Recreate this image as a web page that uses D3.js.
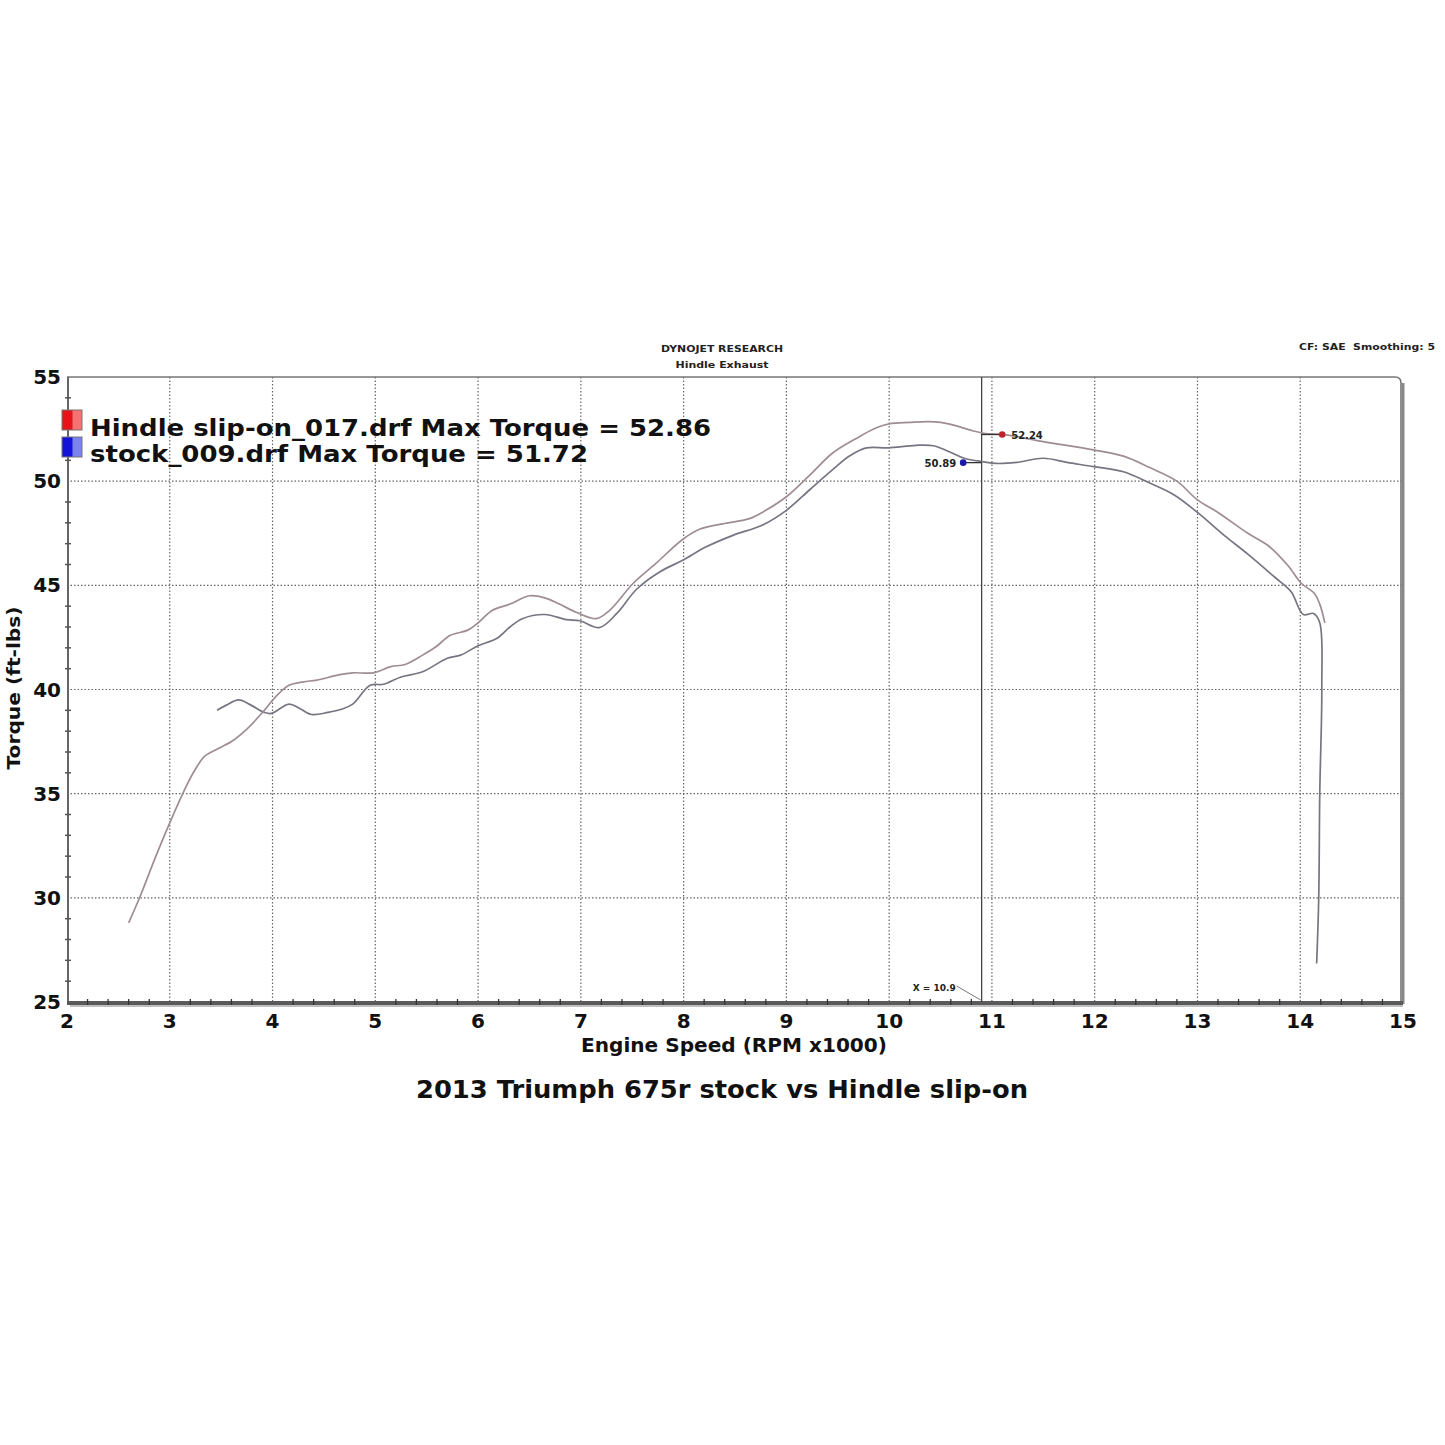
<!DOCTYPE html>
<html>
<head>
<meta charset="utf-8">
<script src="https://cdn.jsdelivr.net/npm/d3@7"></script>
<style>
html,body{margin:0;padding:0;background:#fff;}
svg{display:block;font-family:"DejaVu Sans",Verdana,sans-serif;font-weight:bold;}
</style>
</head>
<body>
<svg id="chart" width="1445" height="1445"></svg>
<script>
// ---------- DATA ----------
const xTicks = [2,3,4,5,6,7,8,9,10,11,12,13,14,15];
const yTicks = [25,30,35,40,45,50,55];

const hindleRpm = [2.60,2.71,2.865,3.0,3.155,3.24,3.34,3.445,3.60,3.75,3.92,4.03,4.16,4.30,4.43,4.64,4.78,4.98,5.15,5.29,5.46,5.59,5.73,5.90,6.0,6.14,6.31,6.50,6.65,6.79,6.96,7.15,7.28,7.51,7.73,7.99,8.16,8.38,8.64,8.80,9.0,9.23,9.45,9.68,9.87,10.0,10.2,10.38,10.5,10.62,10.79,10.92,11.1,11.17,11.5,11.99,12.28,12.54,12.80,13.0,13.20,13.49,13.69,13.88,14.01,14.14,14.19,14.24];
const hindleTq  = [28.8,30.05,32.0,33.6,35.3,36.1,36.8,37.1,37.5,38.1,39.0,39.65,40.2,40.37,40.45,40.7,40.8,40.8,41.1,41.2,41.65,42.05,42.6,42.85,43.2,43.8,44.1,44.5,44.4,44.1,43.7,43.4,43.8,45.1,46.05,47.2,47.7,47.95,48.2,48.6,49.25,50.3,51.35,52.05,52.55,52.75,52.82,52.86,52.82,52.7,52.45,52.3,52.24,52.2,51.9,51.5,51.2,50.64,50.0,49.1,48.5,47.5,46.9,45.95,45.1,44.6,44.1,43.2];

const stockRpm = [3.46,3.55,3.67,3.79,3.92,3.99,4.16,4.26,4.38,4.54,4.67,4.78,4.95,5.08,5.25,5.46,5.70,5.83,6.0,6.18,6.31,6.43,6.65,6.86,6.99,7.18,7.35,7.54,7.77,7.99,8.22,8.48,8.77,9.0,9.23,9.45,9.61,9.78,9.99,10.26,10.43,10.59,10.73,10.92,11.04,11.24,11.5,11.73,11.99,12.28,12.54,12.77,13.0,13.26,13.49,13.75,13.91,14.03,14.13,14.19,14.21,14.19,14.18,14.16];
const stockTq  = [39.0,39.25,39.5,39.25,38.9,38.85,39.3,39.1,38.8,38.9,39.05,39.3,40.2,40.25,40.6,40.85,41.5,41.65,42.1,42.45,43.0,43.4,43.6,43.35,43.3,42.97,43.65,44.8,45.65,46.2,46.85,47.4,47.9,48.6,49.6,50.55,51.2,51.6,51.6,51.72,51.7,51.4,51.1,50.93,50.85,50.9,51.1,50.9,50.7,50.45,49.9,49.35,48.5,47.4,46.5,45.4,44.7,43.6,43.65,43.2,40.1,35.0,30.0,26.85];

const legendLabels = ["Hindle slip-on_017.drf Max Torque = 52.86","stock_009.drf Max Torque = 51.72"];
const cursorX = 10.9;
const markerRpm = [11.1, 10.72];
const markerTq  = [52.24, 50.89];
const markerLabels = ["52.24","50.89"];

// ---------- LAYOUT ----------
const svg = d3.select("#chart");
const x = d3.scaleLinear().domain([2,15]).range([67,1403]);
const y = d3.scaleLinear().domain([25,55]).range([1002,377]);

const defs = svg.append("defs");
function grad(id, c1, c2){
  const g = defs.append("linearGradient").attr("id",id).attr("x1","0").attr("x2","1").attr("y1","0").attr("y2","0");
  g.append("stop").attr("offset","0").attr("stop-color",c1);
  g.append("stop").attr("offset","0.5").attr("stop-color",c1);
  g.append("stop").attr("offset","0.55").attr("stop-color",c2);
  g.append("stop").attr("offset","1").attr("stop-color",c2);
}
grad("gRed","#e8131a","#f47272");
grad("gBlue","#1414d8","#7a82ee");

// grid
const grid = svg.append("g").attr("stroke","#666").attr("stroke-width",1.2).attr("stroke-dasharray","1.5,2");
grid.selectAll("line.v").data(xTicks.slice(1,-1)).join("line")
  .attr("x1",d=>x(d)).attr("x2",d=>x(d)).attr("y1",y(55)).attr("y2",y(25));
grid.selectAll("line.h").data(yTicks.slice(1,-1)).join("line")
  .attr("x1",x(2)).attr("x2",x(15)).attr("y1",d=>y(d)).attr("y2",d=>y(d));

// frame: top thin, right thick with rounded corner
const r = 6;
svg.append("path")
  .attr("d",`M${x(2)},${y(55)} H${x(15)-r-2} Q${x(15)-2},${y(55)} ${x(15)-2},${y(55)+r} V${y(25)}`)
  .attr("fill","none").attr("stroke","#777").attr("stroke-width",1.6);
svg.append("line").attr("x1",x(15)).attr("x2",x(15)).attr("y1",y(55)+r).attr("y2",y(25)+2)
  .attr("stroke","#888").attr("stroke-width",3);

// left axis
svg.append("line").attr("x1",x(2)+1).attr("x2",x(2)+1).attr("y1",y(55)).attr("y2",y(25))
  .attr("stroke","#666").attr("stroke-width",2);
const yMinor = d3.range(26,55,1).filter(v=>v%5!==0);
svg.append("g").selectAll("line").data(yMinor).join("line")
  .attr("x1",x(2)-2).attr("x2",x(2)+4).attr("y1",d=>y(d)).attr("y2",d=>y(d))
  .attr("stroke","#555").attr("stroke-width",1.5);

// bottom axis (thick)
svg.append("line").attr("x1",x(2)).attr("x2",x(15)).attr("y1",y(25)+1).attr("y2",y(25)+1)
  .attr("stroke","#5a5a5a").attr("stroke-width",4);
svg.append("line").attr("x1",x(2)+3).attr("x2",x(15)).attr("y1",y(25)+4).attr("y2",y(25)+4)
  .attr("stroke","#aaa").attr("stroke-width",1.5);
const xMinor = d3.range(2.2,15,0.2).filter(v=>Math.abs(v-Math.round(v))>0.01);
svg.append("g").selectAll("line").data(xMinor).join("line")
  .attr("x1",d=>x(d)).attr("x2",d=>x(d)).attr("y1",y(25)-3).attr("y2",y(25)+3)
  .attr("stroke","#333").attr("stroke-width",1.3);

// tick labels
svg.append("g").selectAll("text").data(xTicks).join("text")
  .attr("x",d=>x(d)).attr("y",1028).attr("text-anchor","middle")
  .attr("font-size",20).attr("fill","#111").text(d=>d);
svg.append("g").selectAll("text").data(yTicks).join("text")
  .attr("x",61).attr("y",d=>y(d)+7).attr("text-anchor","end")
  .attr("font-size",20).attr("fill","#111").text(d=>d);

// axis titles
svg.append("text").attr("x",734).attr("y",1052).attr("text-anchor","middle")
  .attr("font-size",19).attr("fill","#111")
  .attr("textLength",306).attr("lengthAdjust","spacingAndGlyphs")
  .text("Engine Speed (RPM x1000)");
svg.append("text").attr("transform","translate(20,688) rotate(-90)").attr("text-anchor","middle")
  .attr("font-size",18).attr("fill","#111")
  .attr("textLength",163).attr("lengthAdjust","spacingAndGlyphs")
  .text("Torque (ft-lbs)");

// header texts
svg.append("text").attr("x",722).attr("y",352).attr("text-anchor","middle")
  .attr("font-size",9.5).attr("fill","#222")
  .attr("textLength",122).attr("lengthAdjust","spacingAndGlyphs").text("DYNOJET RESEARCH");
svg.append("text").attr("x",722).attr("y",368).attr("text-anchor","middle")
  .attr("font-size",9.5).attr("fill","#222")
  .attr("textLength",93).attr("lengthAdjust","spacingAndGlyphs").text("Hindle Exhaust");
svg.append("text").attr("x",1435).attr("y",350).attr("text-anchor","end")
  .attr("font-size",9.5).attr("fill","#222")
  .attr("textLength",136).attr("lengthAdjust","spacingAndGlyphs").attr("xml:space","preserve")
  .text("CF: SAE  Smoothing: 5");

// chart title
svg.append("text").attr("x",722).attr("y",1098).attr("text-anchor","middle")
  .attr("font-size",25).attr("fill","#111")
  .attr("textLength",612).attr("lengthAdjust","spacingAndGlyphs")
  .text("2013 Triumph 675r stock vs Hindle slip-on");

// cursor line
svg.append("line").attr("x1",x(cursorX)).attr("x2",x(cursorX)).attr("y1",y(55)).attr("y2",y(25))
  .attr("stroke","#444").attr("stroke-width",1.3);
svg.append("text").attr("x",x(cursorX)-26).attr("y",y(25)-11).attr("text-anchor","end")
  .attr("font-size",9).attr("fill","#222").text("X = " + cursorX);
svg.append("line").attr("x1",x(cursorX)-25).attr("y1",y(25)-16).attr("x2",x(cursorX)-1).attr("y2",y(25)-2)
  .attr("stroke","#777").attr("stroke-width",1);

// curves
const line = d3.line().x(d=>x(d[0])).y(d=>y(d[1])).curve(d3.curveCatmullRom.alpha(0.5));
const hindle = hindleRpm.map((v,i)=>[v,hindleTq[i]]);
const stock = stockRpm.map((v,i)=>[v,stockTq[i]]);
svg.append("path").attr("d",line(stock)).attr("fill","none").attr("stroke","#767682").attr("stroke-width",1.7);
svg.append("path").attr("d",line(hindle)).attr("fill","none").attr("stroke","#a08c94").attr("stroke-width",1.7);

// cursor markers
const mColors = ["#c0202c","#1a1aa8"];
markerRpm.forEach((m,i)=>{
  svg.append("line").attr("x1",x(cursorX)).attr("x2",x(m)).attr("y1",y(markerTq[i])).attr("y2",y(markerTq[i]))
    .attr("stroke","#333").attr("stroke-width",1.3);
  svg.append("circle").attr("cx",x(m)).attr("cy",y(markerTq[i])).attr("r",3.3).attr("fill",mColors[i]);
});
svg.append("text").attr("x",x(markerRpm[0])+9).attr("y",y(markerTq[0])+4)
  .attr("font-size",10).attr("fill","#222").text(markerLabels[0]);
svg.append("text").attr("x",x(markerRpm[1])-7).attr("y",y(markerTq[1])+4).attr("text-anchor","end")
  .attr("font-size",10).attr("fill","#222").text(markerLabels[1]);

// legend
const legendFills = ["url(#gRed)","url(#gBlue)"];
const legendW = [621,498];
legendLabels.forEach((t,i)=>{
  svg.append("rect").attr("x",62).attr("y",410+i*27).attr("width",20).attr("height",20)
    .attr("fill",legendFills[i]).attr("stroke","#777").attr("stroke-width",1);
  svg.append("text").attr("x",90).attr("y",436+i*26)
    .attr("font-size",23).attr("fill","#111")
    .attr("textLength",legendW[i]).attr("lengthAdjust","spacingAndGlyphs").text(t);
});
</script>
</body>
</html>
